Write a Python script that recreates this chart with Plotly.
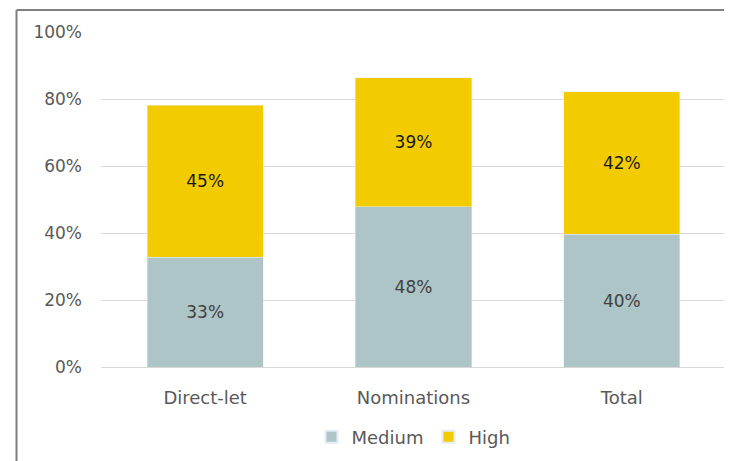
import plotly.graph_objects as go

categories = ["Direct-let", "Nominations", "Total"]
medium = [32.8, 47.8, 39.7]
high = [45.4, 38.6, 42.4]
medium_labels = ["33%", "48%", "40%"]
high_labels = ["45%", "39%", "42%"]
tick_vals = [0, 20, 40, 60, 80, 100]
tick_text = ["0%", "20%", "40%", "60%", "80%", "100%"]

FONT = "DejaVu Sans"
fig = go.Figure()
fig.add_trace(go.Bar(
    name="Medium", x=categories, y=medium, text=medium_labels,
    textposition="inside", insidetextanchor="middle", texttemplate="%{text}",
    marker_color="#ADC5C6", textfont=dict(color="#404040", size=17, family=FONT),
))
fig.add_trace(go.Bar(
    name="High", x=categories, y=high, text=high_labels,
    textposition="inside", insidetextanchor="middle", texttemplate="%{text}",
    marker_color="#F2CC00", textfont=dict(color="#1a1a1a", size=17, family=FONT),
))

# page has an 8px body margin; compensate
fig.update_layout(
    barmode="stack", bargap=0.443,
    width=724, height=453,
    margin=dict(l=93, r=6, t=24, b=94),
    paper_bgcolor="white", plot_bgcolor="white",
    font=dict(family=FONT, color="#595959", size=17),
    showlegend=True,
    legend=dict(orientation="h", x=0.5, xanchor="center", y=-0.209, yanchor="middle",
                font=dict(size=18, color="#595959"), itemsizing="constant",
                traceorder="normal", itemwidth=30),
    yaxis=dict(range=[0, 100], tickvals=tick_vals, ticktext=tick_text,
               showgrid=True, gridcolor="#D9D9D9", gridwidth=1.3,
               zeroline=False, showline=False, ticklabelstandoff=18,
               tickfont=dict(size=17, color="#595959")),
    xaxis=dict(showline=True, linecolor="#D9D9D9", linewidth=1.3,
               ticks="", ticklabelstandoff=14,
               tickfont=dict(size=18, color="#595959")),
    shapes=[
        dict(type="line", xref="paper", yref="paper", x0=-0.1352, x1=-0.1352, y0=-0.35, y1=1.0657,
             line=dict(color="#7F7F7F", width=2)),
        dict(type="line", xref="paper", yref="paper", x0=-0.1352, x1=1.05, y0=1.0657, y1=1.0657,
             line=dict(color="#7F7F7F", width=2)),
    ],
)

fig.write_html("out.html")
